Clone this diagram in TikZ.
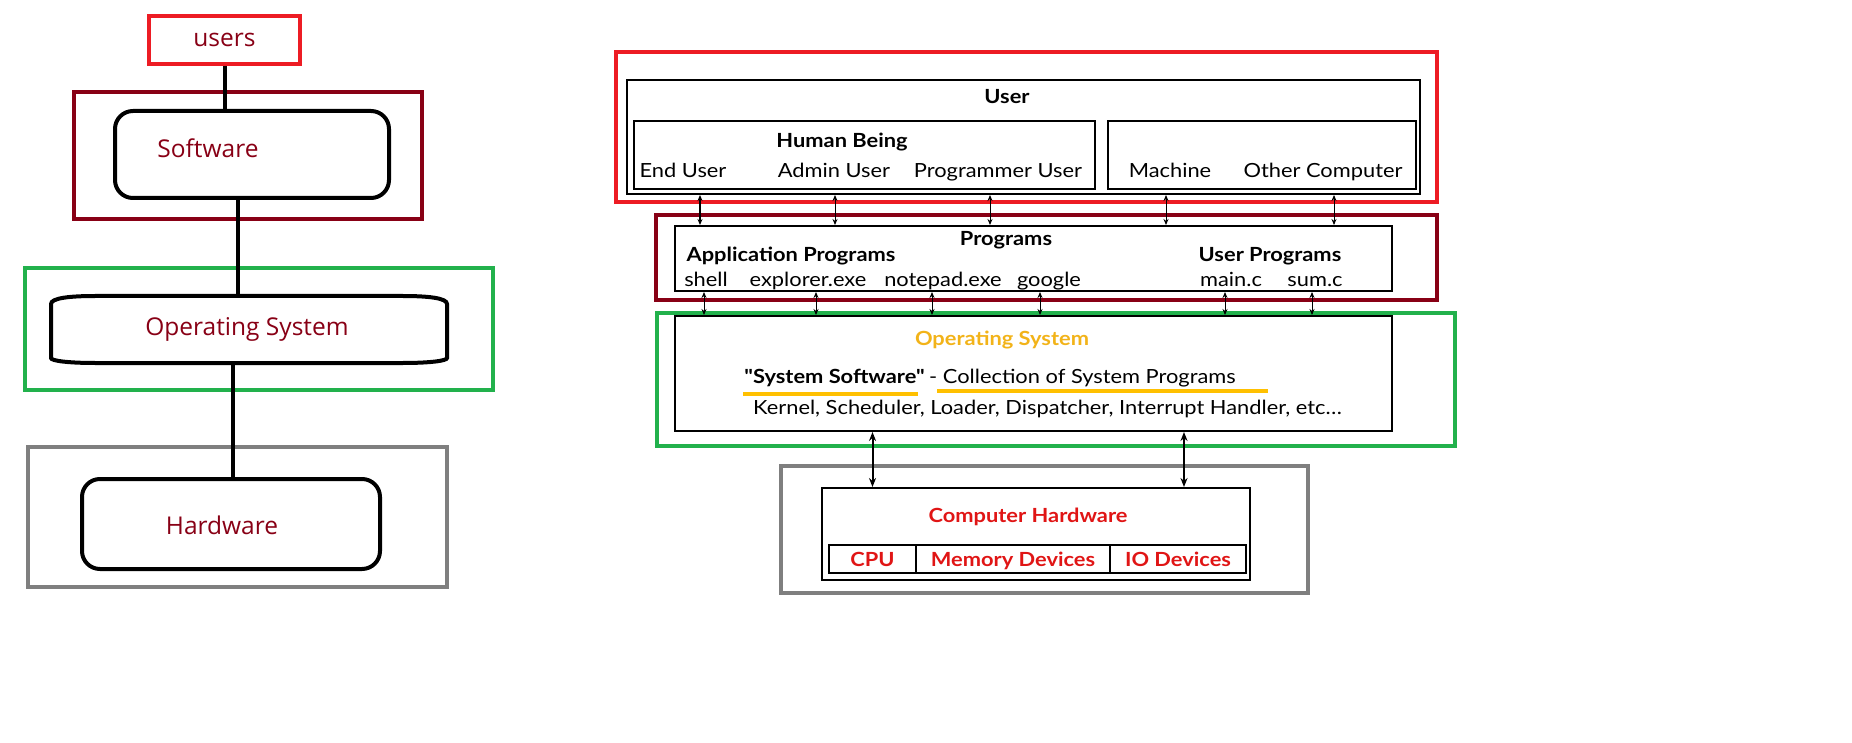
\documentclass[tikz,border=0pt]{standalone}
\usepackage{fontspec}
\setmainfont{Open Sans}
\newfontfamily\diagfont[FakeStretch=1.12]{Lato}
\usetikzlibrary{arrows.meta, positioning}
\definecolor{frameRed}{HTML}{ED1C24}
\definecolor{frameMaroon}{HTML}{880015}
\definecolor{frameGreen}{HTML}{22B14C}
\definecolor{frameGray}{HTML}{7F7F7F}
\definecolor{textOrange}{HTML}{F2B319}
\definecolor{lineOrange}{HTML}{FFC000}
\definecolor{textRed}{HTML}{E01515}

\begin{document}
\begin{tikzpicture}[x=1pt, y=-1pt,
    frame/.style={draw, line width=4pt, inner sep=0pt},
    box/.style={draw, line width=2pt, inner sep=0pt},
    fatbox/.style={draw, line width=4pt, rounded corners=18pt, inner sep=0pt},
    lefttext/.style={text=frameMaroon, inner sep=0pt, font=\fontsize{24.5}{28}\selectfont},
    small/.style={inner sep=0pt, text height=16pt, text depth=2pt, font=\diagfont\fontsize{19.5}{22}\selectfont},
    smallbold/.style={small, font=\diagfont\bfseries\fontsize{19.5}{22}\selectfont},
    link/.style={line width=4pt},
    both/.style={{Stealth[length=6pt,width=5pt]}-{Stealth[length=6pt,width=5pt]}, line width=0.9pt},
    boththick/.style={{Stealth[length=9pt,width=7pt]}-{Stealth[length=9pt,width=7pt]}, line width=2pt},
    uline/.style={lineOrange, line width=4pt}]
    \useasboundingbox (0,0) rectangle (1852,743);

    % left: layers
    \node[frame, draw=frameRed, minimum width=151pt, minimum height=48pt, lefttext] (users) at (224.5,40) {users};
    \node[frame, draw=frameMaroon, minimum width=348pt, minimum height=127pt] (swframe) at (248,155.5) {};
    \node[fatbox, minimum width=274pt, minimum height=87pt] (sw) at (252,154.5) {};
    \node[lefttext] (swtxt) at (208,148) {Software};
    \node[frame, draw=frameGreen, minimum width=468pt, minimum height=122pt] (osframe) at (259,329) {};
    \node[inner sep=0pt, minimum width=396pt, minimum height=67pt] (os) at (249,329.5) {};
    \draw[line width=4pt] (51,304) .. controls (51,298) and (70,296) .. (95,296) -- (403,296)
        .. controls (428,296) and (447,298) .. (447,304) -- (447,358)
        .. controls (447,361) and (428,363) .. (403,363) -- (95,363)
        .. controls (70,363) and (51,361) .. (51,358) -- cycle;
    \node[lefttext] (ostxt) at (247,329) {Operating System};
    \node[frame, draw=frameGray, minimum width=419pt, minimum height=140pt] (hwframe) at (237.5,517) {};
    \node[fatbox, minimum width=298pt, minimum height=90pt] (hw) at (231,524) {};
    \node[lefttext] (hwtxt) at (222,525) {Hardware};

    \draw[link] (users.south) -- (users.south |- sw.north);
    \draw[link] ([xshift=-14pt]sw.south) -- ([xshift=-14pt]sw.south |- os.north);
    \draw[link] ([xshift=-16pt]os.south) -- ([xshift=-16pt]os.south |- hw.north);

    % right: user
    \node[frame, draw=frameRed, minimum width=821pt, minimum height=150pt] (userframe) at (1026.5,127) {};
    \node[box, minimum width=793pt, minimum height=114pt] (user) at (1023.5,137) {};
    \node[smallbold] (usertxt) at (1007,97) {User};
    \node[box, minimum width=461pt, minimum height=68pt] (human) at (864.5,155) {};
    \node[smallbold] (humantxt) at (842,141) {Human Being};
    \node[small] (enduser) at (683,171) {End User};
    \node[small] (admin) at (834,171) {Admin User};
    \node[small] (coder) at (998,171) {Programmer User};
    \node[box, minimum width=308pt, minimum height=68pt] (machinebox) at (1262,155) {};
    \node[small] (machine) at (1170,171) {Machine};
    \node[small] (other) at (1323,171) {Other Computer};

    % right: programs
    \node[frame, draw=frameMaroon, minimum width=781pt, minimum height=85pt] (progframe) at (1046.5,257.5) {};
    \node[box, minimum width=717pt, minimum height=65pt] (prog) at (1033.5,258.5) {};
    \node[smallbold] (progtxt) at (1006,239) {Programs};
    \node[smallbold] (apptxt) at (791,255) {Application Programs};
    \node[smallbold] (uprogtxt) at (1270,255) {User Programs};
    \node[small] (shell) at (706,280) {shell};
    \node[small] (explorer) at (808,280) {explorer.exe};
    \node[small] (notepad) at (943,280) {notepad.exe};
    \node[small] (google) at (1049,280) {google};
    \node[small] (mainc) at (1231,280) {main.c};
    \node[small] (sumc) at (1315,280) {sum.c};

    % right: operating system
    \node[frame, draw=frameGreen, minimum width=798pt, minimum height=133pt] (osouter) at (1056,379.5) {};
    \node[box, minimum width=717pt, minimum height=115pt] (osin) at (1033.5,373.5) {};
    \node[smallbold, text=textOrange] (osname) at (1002,338) {Operating System};
    \node[smallbold] (syssw) at (834.5,376) {"System Software"};
    \node[small] (collect) at (1082.5,376) {- Collection of System Programs};
    \node[small] (parts) at (1047.5,407) {Kernel, Scheduler, Loader, Dispatcher, Interrupt Handler, etc\dots};
    \draw[uline] (743,394) -- (918,394);
    \draw[uline] (937,391) -- (1268,391);

    % right: hardware
    \node[frame, draw=frameGray, minimum width=527pt, minimum height=127pt] (hwouter) at (1044.5,529.5) {};
    \node[box, minimum width=428pt, minimum height=92pt] (hwin) at (1036,534) {};
    \node[smallbold, text=textRed] (hwname) at (1028,515) {Computer Hardware};
    \node[box, minimum width=87pt, minimum height=28pt, smallbold, text=textRed] (cpu) at (872.5,559) {CPU};
    \node[box, minimum width=194pt, minimum height=28pt, smallbold, text=textRed] (mem) at (1013,559) {Memory Devices};
    \node[box, minimum width=136pt, minimum height=28pt, smallbold, text=textRed] (io) at (1178,559) {IO Devices};

    % arrows
    \draw[both, line width=1.8pt] ([xshift=17pt]enduser |- user.south) -- ([xshift=17pt]enduser |- prog.north);
    \foreach \n/\dx in {admin/1, coder/-8, machine/-4, other/11}
        \draw[both] ([xshift=\dx pt]\n |- user.south) -- ([xshift=\dx pt]\n |- prog.north);
    \foreach \n/\dx in {shell/-2, explorer/8, notepad/-11, google/-9, mainc/-6, sumc/-3}
        \draw[both] ([xshift=\dx pt]\n |- prog.south) -- ([xshift=\dx pt]\n |- osin.north);
    \draw[boththick] (cpu |- osin.south) -- (cpu |- hwin.north);
    \draw[boththick] ([xshift=6pt]io |- osin.south) -- ([xshift=6pt]io |- hwin.north);
\end{tikzpicture}
\end{document}
